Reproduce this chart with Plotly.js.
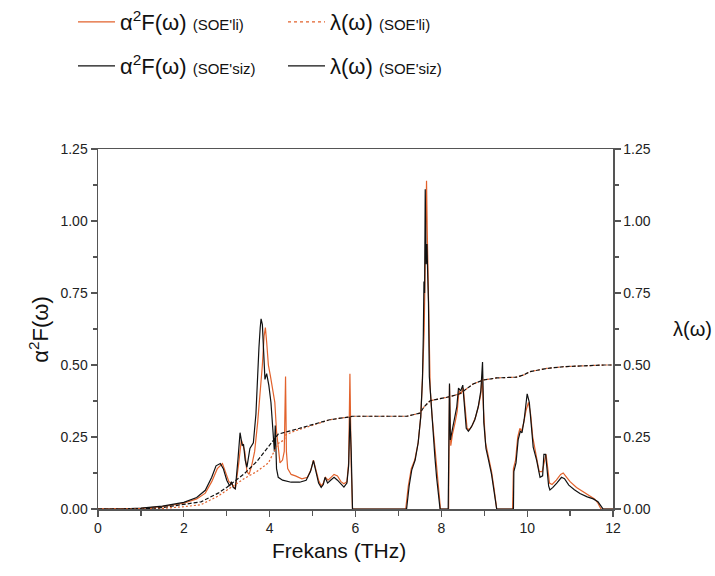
<!DOCTYPE html>
<html>
<head>
<meta charset="utf-8">
<script src="https://cdn.plot.ly/plotly-3.0.1.min.js"></script>
<style>html,body{margin:0;padding:0;background:#fff;}#chart{width:715px;height:576px;}</style>
</head>
<body>
<div id="chart"></div>
<script>
// α²F(ω) SOE'siz (black)
const freqSiz = [0,0.5,1.0,1.5,2.0,2.3,2.5,2.65,2.75,2.85,2.92,3.0,3.07,3.11,3.15,3.2,3.26,3.31,3.36,3.39,3.43,3.47,3.54,3.62,3.68,3.72,3.75,3.78,3.80,3.83,3.86,3.89,3.93,3.98,4.03,4.08,4.11,4.13,4.16,4.2,4.3,4.5,4.7,4.85,4.95,5.02,5.08,5.14,5.2,5.25,5.29,5.35,5.42,5.5,5.58,5.66,5.73,5.8,5.84,5.87,5.9,5.93,7.19,7.25,7.31,7.39,7.46,7.52,7.56,7.58,7.595,7.61,7.625,7.645,7.665,7.685,7.70,7.72,7.77,7.81,7.85,7.89,7.95,7.97,8.16,8.18,8.19,8.21,8.25,8.31,8.36,8.40,8.45,8.50,8.53,8.58,8.63,8.7,8.78,8.86,8.92,8.96,8.99,9.04,9.1,9.17,9.22,9.27,9.29,9.68,9.69,9.74,9.79,9.84,9.88,9.93,10.0,10.05,10.1,10.14,10.22,10.3,10.36,10.39,10.43,10.46,10.5,10.53,10.6,10.69,10.8,10.87,10.97,11.1,11.23,11.4,11.54,11.65,11.72,11.77,12];
const a2fSiz = [0,0,0.003,0.01,0.023,0.04,0.065,0.11,0.15,0.158,0.14,0.1,0.08,0.095,0.075,0.07,0.17,0.265,0.22,0.225,0.17,0.145,0.21,0.23,0.33,0.5,0.56,0.63,0.66,0.64,0.55,0.45,0.47,0.43,0.37,0.25,0.2,0.29,0.14,0.11,0.1,0.093,0.093,0.1,0.13,0.168,0.13,0.09,0.075,0.085,0.11,0.09,0.1,0.11,0.1,0.085,0.076,0.09,0.15,0.32,0.2,0,0,0.08,0.135,0.17,0.23,0.32,0.45,0.6,0.79,0.75,1.11,0.85,0.92,0.8,0.72,0.46,0.344,0.26,0.18,0.11,0.03,0,0,0.3,0.436,0.24,0.27,0.31,0.355,0.42,0.41,0.43,0.37,0.28,0.27,0.285,0.31,0.355,0.41,0.51,0.3,0.21,0.17,0.12,0.07,0.01,0,0,0.13,0.16,0.24,0.27,0.265,0.31,0.40,0.37,0.28,0.215,0.17,0.11,0.115,0.19,0.19,0.14,0.08,0.066,0.075,0.09,0.11,0.105,0.083,0.067,0.054,0.042,0.035,0.025,0.012,0,0];

// α²F(ω) SOE'li (orange)
const freqLi = [0,0.5,1.0,1.5,2.0,2.3,2.5,2.65,2.78,2.9,2.97,3.05,3.1,3.15,3.2,3.28,3.34,3.38,3.42,3.47,3.52,3.58,3.65,3.72,3.78,3.83,3.87,3.9,3.93,3.97,4.02,4.07,4.12,4.16,4.2,4.24,4.3,4.34,4.37,4.39,4.42,4.5,4.6,4.75,4.88,4.96,5.02,5.08,5.14,5.2,5.25,5.3,5.36,5.43,5.5,5.58,5.66,5.73,5.8,5.84,5.87,5.9,5.93,7.17,7.23,7.3,7.38,7.46,7.52,7.56,7.6,7.63,7.655,7.67,7.69,7.71,7.74,7.78,7.83,7.88,7.93,7.98,8.17,8.19,8.22,8.26,8.32,8.37,8.41,8.46,8.51,8.55,8.6,8.65,8.72,8.8,8.87,8.92,8.95,8.98,9.03,9.1,9.17,9.23,9.27,9.29,9.66,9.68,9.73,9.78,9.83,9.87,9.92,9.97,10.03,10.08,10.13,10.2,10.28,10.35,10.4,10.44,10.48,10.52,10.58,10.68,10.78,10.84,10.92,11.0,11.15,11.3,11.45,11.57,11.65,11.72,12];
const a2fLi = [0,0,0.002,0.008,0.02,0.035,0.055,0.095,0.14,0.158,0.13,0.095,0.09,0.08,0.07,0.16,0.24,0.22,0.2,0.13,0.12,0.15,0.2,0.3,0.4,0.5,0.6,0.63,0.58,0.5,0.46,0.42,0.37,0.27,0.2,0.16,0.17,0.2,0.46,0.2,0.14,0.12,0.115,0.105,0.11,0.135,0.17,0.13,0.1,0.08,0.09,0.11,0.1,0.11,0.12,0.115,0.095,0.088,0.095,0.16,0.47,0.15,0,0,0.08,0.14,0.17,0.23,0.32,0.45,0.62,0.9,1.14,0.98,0.8,0.6,0.42,0.33,0.24,0.15,0.07,0,0,0.43,0.22,0.26,0.3,0.34,0.41,0.4,0.42,0.36,0.28,0.275,0.29,0.32,0.36,0.4,0.46,0.35,0.23,0.18,0.13,0.07,0.01,0,0,0.14,0.17,0.25,0.28,0.27,0.3,0.34,0.37,0.33,0.25,0.19,0.13,0.13,0.17,0.19,0.14,0.09,0.085,0.1,0.12,0.125,0.11,0.095,0.075,0.06,0.048,0.035,0.02,0,0];

// λ(ω)
const freqLamSiz = [0,1.0,1.5,2.0,2.4,2.8,3.0,3.42,3.7,3.97,4.2,4.5,4.82,5.4,5.87,5.93,7.2,7.5,7.6,7.74,7.97,8.2,8.43,8.59,8.74,8.98,9.29,9.75,9.91,10.07,10.45,10.84,11.3,11.8,12];
const lamSiz = [0,0,0.005,0.015,0.025,0.055,0.075,0.124,0.165,0.216,0.26,0.272,0.285,0.31,0.32,0.322,0.322,0.333,0.355,0.376,0.383,0.39,0.40,0.419,0.434,0.448,0.455,0.458,0.465,0.477,0.488,0.494,0.498,0.5,0.5];
const freqLamLi = [0,1.0,1.5,2.0,2.4,2.8,3.0,3.42,3.7,3.97,4.2,4.34,4.38,4.6,4.82,5.4,5.87,5.93,7.2,7.5,7.6,7.74,7.97,8.2,8.43,8.59,8.74,8.98,9.29,9.75,9.91,10.07,10.45,10.84,11.3,11.8,12];
const lamLi = [0,0,0.002,0.008,0.015,0.045,0.065,0.107,0.13,0.16,0.228,0.24,0.258,0.272,0.282,0.31,0.32,0.322,0.322,0.333,0.355,0.376,0.383,0.39,0.40,0.419,0.434,0.448,0.455,0.458,0.465,0.477,0.488,0.494,0.498,0.5,0.5];

const legendNames = [
  "α<sup>2</sup>F(ω) <span style='font-size:15px'>(SOE'li)</span>",
  "λ(ω) <span style='font-size:15px'>(SOE'li)</span>",
  "α<sup>2</sup>F(ω) <span style='font-size:15px'>(SOE'siz)</span>",
  "λ(ω) <span style='font-size:15px'>(SOE'siz)</span>"
];

const ORANGE = '#e2622c';
const BLACK = '#111111';

const traces = [
  {x: freqLamLi, y: lamLi, yaxis: 'y2', mode: 'lines', line: {color: ORANGE, width: 1.2, dash: '2px,2px'}, showlegend: false, hoverinfo: 'skip'},
  {x: freqLamSiz, y: lamSiz, yaxis: 'y2', mode: 'lines', line: {color: BLACK, width: 1.2, dash: '4px,2px'}, showlegend: false, hoverinfo: 'skip'},
  {x: freqLi, y: a2fLi, mode: 'lines', line: {color: ORANGE, width: 1.2}, showlegend: false},
  {x: freqSiz, y: a2fSiz, mode: 'lines', line: {color: BLACK, width: 1.2}, showlegend: false},
  // legend entries
  {x: [null], y: [null], mode: 'lines', name: legendNames[0], line: {color: ORANGE, width: 1.2}, legend: 'legend'},
  {x: [null], y: [null], mode: 'lines', name: legendNames[1], line: {color: ORANGE, width: 1.2, dash: 'dot'}, legend: 'legend2'},
  {x: [null], y: [null], mode: 'lines', name: legendNames[2], line: {color: BLACK, width: 1.2}, legend: 'legend3'},
  {x: [null], y: [null], mode: 'lines', name: legendNames[3], line: {color: BLACK, width: 1.2}, legend: 'legend4'}
];

const FONT = 'Liberation Sans, Arial, sans-serif';
function leg(px, py) {
  return {xref: 'container', yref: 'container', x: px/715, y: 1 - py/576, xanchor: 'left', yanchor: 'middle',
          bgcolor: 'rgba(0,0,0,0)', font: {family: FONT, size: 22, color: '#111'}, itemwidth: 37};
}

const axisCommon = {
  showline: true, linecolor: '#555', linewidth: 1.5, ticks: 'outside', tickcolor: '#555', ticklen: 6, tickwidth: 1.2,
  showgrid: false, zeroline: false, tickfont: {family: FONT, size: 14, color: '#222'}
};

const layout = {
  width: 715, height: 576,
  margin: {l: 98, r: 102, t: 149, b: 67, autoexpand: false},
  paper_bgcolor: '#fff', plot_bgcolor: '#fff',
  font: {family: FONT},
  xaxis: Object.assign({}, axisCommon, {range: [0, 12], dtick: 2, tick0: 0, mirror: true, automargin: false,
    minor: {dtick: 1, ticks: 'outside', ticklen: 5, tickcolor: '#555'}}),
  yaxis: Object.assign({}, axisCommon, {range: [0, 1.25], dtick: 0.25, tick0: 0, tickformat: '.2f', automargin: false,
    minor: {dtick: 0.125, ticks: 'outside', ticklen: 4, tickcolor: '#555'}}),
  yaxis2: Object.assign({}, axisCommon, {range: [0, 1.25], dtick: 0.25, tick0: 0, tickformat: '.2f', overlaying: 'y', side: 'right', automargin: false,
    minor: {dtick: 0.125, ticks: 'outside', ticklen: 4, tickcolor: '#555'}}),
  legend: leg(73, 22),
  legend2: leg(283, 22),
  legend3: leg(73, 66),
  legend4: leg(283, 66),
  annotations: [
    {xref: 'paper', yref: 'paper', x: -0.115, y: 0.5, text: 'α<sup>2</sup>F(ω)', textangle: -90, showarrow: false,
     xanchor: 'center', yanchor: 'middle', font: {family: FONT, size: 22, color: '#111'}},
    {xref: 'paper', yref: 'paper', x: 1.155, y: 0.5, text: 'λ(ω)', showarrow: false,
     xanchor: 'center', yanchor: 'middle', font: {family: FONT, size: 20, color: '#111'}},
    {xref: 'paper', yref: 'paper', x: 0.467, y: -0.115, text: 'Frekans (THz)', showarrow: false,
     xanchor: 'center', yanchor: 'middle', font: {family: FONT, size: 21, color: '#111'}}
  ]
};

Plotly.newPlot('chart', traces, layout, {displayModeBar: false, staticPlot: true});
</script>
</body>
</html>
